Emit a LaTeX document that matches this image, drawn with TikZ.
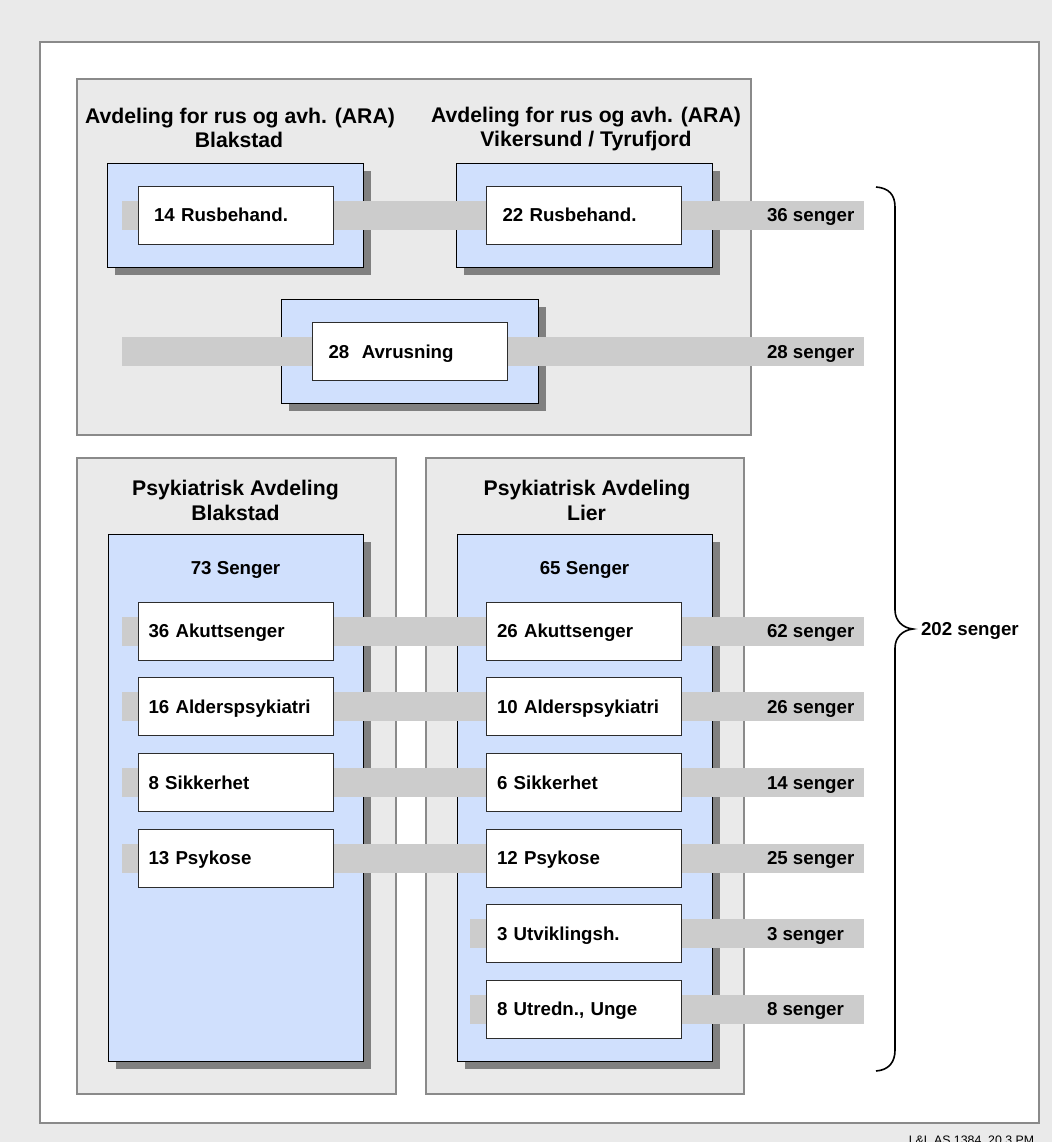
\documentclass[tikz,border=0pt]{standalone}
\usepackage{fontspec}
\setmainfont{Liberation Sans}
\definecolor{pagebg}{RGB}{234,234,234}
\definecolor{panelbg}{RGB}{234,234,234}
\definecolor{panelline}{RGB}{138,138,138}
\definecolor{wardblue}{RGB}{208,224,253}
\definecolor{wardshadow}{RGB}{128,128,128}
\definecolor{barfill}{RGB}{204,204,204}
\definecolor{unitline}{RGB}{45,45,45}
\newcommand\bodyfnt{\fontsize{18.7}{22}\selectfont\bfseries}
\newcommand\titlefnt{\fontsize{21.2}{24}\selectfont\bfseries}
\newcommand\footfnt{\fontsize{12.3}{14}\selectfont}
\begin{document}
\begin{tikzpicture}[x=1pt,y=-1pt,
  every node/.style={inner sep=0pt, outer sep=0pt},
  outerframe/.style={draw=panelline, line width=2.6pt, fill=white},
  panel/.style={draw=panelline, line width=2pt, fill=panelbg},
  ward/.style={draw=black, line width=0.9pt, fill=wardblue},
  wardshade/.style={fill=wardshadow},
  bar/.style={draw=barfill, line width=29pt, line cap=butt},
  unit/.style={draw=unitline, line width=0.9pt, fill=white, minimum height=58pt,
    text height=13.4pt, text depth=0pt, align=left, font=\bodyfnt},
  unitA/.style={unit, inner xsep=16pt, text width=163pt},
  unitB/.style={unit, inner xsep=10.5pt, text width=174pt},
  title/.style={anchor=base, font=\titlefnt},
  total/.style={anchor=base west, font=\bodyfnt},
  brace/.style={draw=black, line width=1.6pt}
]
\useasboundingbox (0,0) rectangle (1052,1142);
\fill[pagebg] (0,0) rectangle (1052,1142);
\draw[outerframe] (40,42) rectangle (1039,1123);

% department panels
\draw[panel] (77,79) rectangle (751,435);
\draw[panel] (77,458) rectangle (396,1094);
\draw[panel] (426,458) rectangle (744,1094);

% ward boxes with drop shadows
\fill[wardshade] (115,171) rectangle (371,275);
\draw[ward] (107,163) rectangle (363,267);
\fill[wardshade] (464,171) rectangle (720,275);
\draw[ward] (456,163) rectangle (712,267);
\fill[wardshade] (289,307) rectangle (546,411);
\draw[ward] (281,299) rectangle (538,403);
\fill[wardshade] (116,542) rectangle (371,1069);
\draw[ward] (108,534) rectangle (363,1061);
\fill[wardshade] (465,542) rectangle (720,1069);
\draw[ward] (457,534) rectangle (712,1061);

% department titles
\node[title] (t1a) at (240,124) {Avdeling for rus og avh. (ARA)};
\node[title] (t1b) at (239,148) {Blakstad};
\node[title] (t2a) at (586,123) {Avdeling for rus og avh. (ARA)};
\node[title] (t2b) at (586,147) {Vikersund / Tyrufjord};
\node[title] (t3a) at (235.5,495) {Psykiatrisk Avdeling};
\node[title] (t3b) at (235.5,520) {Blakstad};
\node[title] (t4a) at (587,495) {Psykiatrisk Avdeling};
\node[title] (t4b) at (586.5,520) {Lier};
\node[anchor=base, font=\bodyfnt] (s73) at (235.5,574.5) {73 Senger};
\node[anchor=base, font=\bodyfnt] (s65) at (584.5,574.5) {65 Senger};

% bar end points
\coordinate (a1) at (122,215);     \coordinate (a2) at (864,215);
\coordinate (v1) at (122,351.5);   \coordinate (v2) at (864,351.5);
\coordinate (k1) at (122,631);     \coordinate (k2) at (864,631);
\coordinate (g1) at (122,706.5);   \coordinate (g2) at (864,706.5);
\coordinate (h1) at (122,782.5);   \coordinate (h2) at (864,782.5);
\coordinate (p1) at (122,858);     \coordinate (p2) at (864,858);
\coordinate (u1) at (470,933.5);   \coordinate (u2) at (864,933.5);
\coordinate (y1) at (470,1009);    \coordinate (y2) at (864,1009);

% bed bars running through the units
\draw[bar] (a1) -- (a2);
\draw[bar] (v1) -- (v2);
\draw[bar] (k1) -- (k2);
\draw[bar] (g1) -- (g2);
\draw[bar] (h1) -- (h2);
\draw[bar] (p1) -- (p2);
\draw[bar] (u1) -- (u2);
\draw[bar] (y1) -- (y2);

% units
\node[unitA] (r14) at (235.5,215) {14 Rusbehand.};
\node[unitA] (r22) at (584,215) {22 Rusbehand.};
\node[unitA] (av28) at (410,351.5) {28\ \ Avrusning};
\node[unitB] (ak36) at (235.5,631) {36 Akuttsenger};
\node[unitB] (al16) at (235.5,706.5) {16 Alderspsykiatri};
\node[unitB] (si8) at (235.5,782.5) {8 Sikkerhet};
\node[unitB] (ps13) at (235.5,858) {13 Psykose};
\node[unitB] (ak26) at (584,631) {26 Akuttsenger};
\node[unitB] (al10) at (584,706.5) {10 Alderspsykiatri};
\node[unitB] (si6) at (584,782.5) {6 Sikkerhet};
\node[unitB] (ps12) at (584,858) {12 Psykose};
\node[unitB] (ut3) at (584,933.5) {3 Utviklingsh.};
\node[unitB] (ut8) at (584,1009) {8 Utredn., Unge};

% row totals
\node[total] (n36) at (767,221.7) {36 senger};
\node[total] (n28) at (767,358.2) {28 senger};
\node[total] (n62) at (767,637.7) {62 senger};
\node[total] (n26) at (767,713.2) {26 senger};
\node[total] (n14) at (767,789.2) {14 senger};
\node[total] (n25) at (767,864.7) {25 senger};
\node[total] (n3) at (767,940.2) {3 senger};
\node[total] (n8) at (767,1015.7) {8 senger};

% grand total brace
\coordinate (bt) at (876,187);
\coordinate (bm) at (913,629);
\coordinate (bb) at (876,1071);
\draw[brace] (bt) .. controls (889,188) and (895,195) .. (895,207)
  -- (895,610) .. controls (895,621) and (903,628) .. (bm)
  .. controls (903,630) and (895,637) .. (895,648)
  -- (895,1050) .. controls (895,1062) and (889,1070) .. (bb);
\node[total] (n202) at (921,635.7) {202 senger};

% footer, running off the lower page edge
\node[anchor=base east, font=\footfnt] (foot) at (1034,1144.5) {L\&L AS 1384, 20.3.PM};
\end{tikzpicture}
\end{document}
